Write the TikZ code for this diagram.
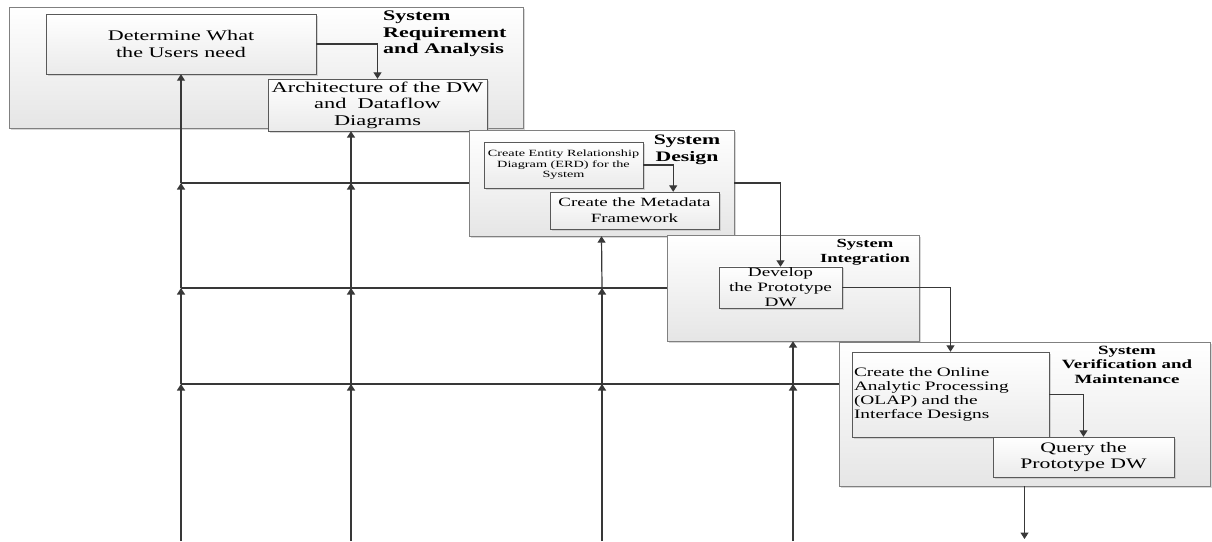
\documentclass[tikz,border=0pt]{standalone}
\usepackage{fontspec}
\setmainfont{Liberation Serif}[FakeStretch = 1.5]
\usetikzlibrary{arrows.meta}
\usetikzlibrary{shadows}

\begin{document}
\begin{tikzpicture}[x = 1pt, y = -1pt,
		phase/.style = {draw = black!50, top color = white, bottom color = black!10, inner sep = 0pt,
			drop shadow = {shadow xshift = 2pt, shadow yshift = -2pt, fill = black!30}},
		inbox/.style = {draw = black!65, top color = white, bottom color = black!8, inner sep = 1pt, align = center,
			drop shadow = {shadow xshift = 1.5pt, shadow yshift = -1.5pt, fill = black!30}},
		title/.style = {inner sep = 0pt, anchor = north},
		flow/.style = {draw = black!78, line width = 1.2pt, -{Triangle[length = 6.5pt, width = 8pt]}},
		back/.style = {draw = black!78, line width = 1.2pt}]
	\useasboundingbox (0, 0) rectangle (1212, 541);
	\node (req) at (266, 67.5) [phase, minimum width = 514pt, minimum height = 121pt] {};
	\node (reqt) at (383, 10.5) [title, anchor = north west, align = left, font = \bfseries\fontsize{14.7}{16.7}\selectfont] {System\\Requirement\\and Analysis};
	\node (det) at (181, 44) [inbox, minimum width = 270pt, minimum height = 60pt, font = \fontsize{14.7}{17}\selectfont] {Determine What\\the Users need};
	\node (arch) at (377.5, 105) [inbox, minimum width = 219pt, minimum height = 52pt, font = \fontsize{14.9}{16.5}\selectfont] {Architecture of the DW\\and\ \ Dataflow\\Diagrams};
	\draw [flow] (det.east) -| (arch.north);
	\node (des) at (601.5, 183) [phase, minimum width = 265pt, minimum height = 106pt] {};
	\node (dest) at (687, 135) [title, align = center, font = \bfseries\fontsize{14.5}{17}\selectfont] {System\\Design};
	\node (erd) at (563.5, 165) [inbox, minimum width = 159pt, minimum height = 46pt, font = \fontsize{9.5}{10.7}\selectfont] {Create Entity Relationship\\Diagram (ERD) for the\\System};
	\node (meta) at (634.5, 210.5) [inbox, minimum width = 169pt, minimum height = 37pt, font = \fontsize{12.6}{15.7}\selectfont] {Create the Metadata\\Framework};
	\draw [flow] (erd.east) -| ([xshift = -46pt] meta.north east);
	\node (int) at (793, 288) [phase, minimum width = 252pt, minimum height = 106pt] {};
	\node (intt) at (865, 239) [title, align = center, font = \bfseries\fontsize{12.4}{15}\selectfont] {System\\Integration};
	\node (dev) at (780.5, 287.5) [inbox, minimum width = 123pt, minimum height = 41pt, font = \fontsize{12.8}{15}\selectfont] {Develop\\the Prototype\\DW};
	\draw [flow] (des.east) -| (dev.north);
	\node (ver) at (1024.5, 414) [phase, minimum width = 371pt, minimum height = 144pt] {};
	\node (vert) at (1127, 345.5) [title, align = center, font = \bfseries\fontsize{12.6}{14.5}\selectfont] {System\\Verification and\\Maintenance};
	\node (olap) at (950.5, 394.5) [inbox, text width = 193pt, inner sep = 2pt, align = left, minimum height = 85pt, font = \fontsize{12.9}{14.2}\selectfont] {Create the Online\\Analytic Processing\\(OLAP) and the\\Interface Designs};
	\node (query) at (1083.5, 457) [inbox, minimum width = 181pt, minimum height = 40pt, font = \fontsize{14.5}{16}\selectfont] {Query the\\Prototype DW};
	\draw [flow] (dev.east) -| (olap.north);
	\draw [flow] (olap.east) -| (query.north);
	\coordinate (out) at (1024.5, 539);
	\draw [flow] (ver.south) -- (out);
	\coordinate (a0) at (181, 541);
	\coordinate (a1) at (181, 384);
	\coordinate (a2) at (181, 288);
	\coordinate (a3) at (181, 183);
	\coordinate (b0) at (351, 541);
	\coordinate (b1) at (351, 384);
	\coordinate (b2) at (351, 288);
	\coordinate (b3) at (351, 183);
	\coordinate (c0) at (602, 541);
	\coordinate (c1) at (602, 384);
	\coordinate (c2) at (602, 288);
	\coordinate (d0) at (793, 541);
	\coordinate (d1) at (793, 384);
	\draw [back] (des.west) -- (a3);
	\draw [back] (int.west) -- (a2);
	\draw [back] (ver.west |- a1) -- (a1);
	\draw [flow] (a0) -- (a1);
	\draw [flow] (a1) -- (a2);
	\draw [flow] (a2) -- (a3);
	\draw [flow] (a3) -- (det.south);
	\draw [flow] (b0) -- (b1);
	\draw [flow, line width = 2pt] (b1) -- (b2);
	\draw [flow, line width = 2pt] (b2) -- (b3);
	\draw [flow, line width = 2pt] (b3) -- (b3 |- arch.south);
	\draw [flow] (c0) -- (c1);
	\draw [flow] (c1) -- (c2);
	\draw [flow] (c2) -- (des.south);
	\draw [flow, line width = 2pt] (d0) -- (d1);
	\draw [flow, line width = 2pt] (d1) -- (int.south);
\end{tikzpicture}
\end{document}
